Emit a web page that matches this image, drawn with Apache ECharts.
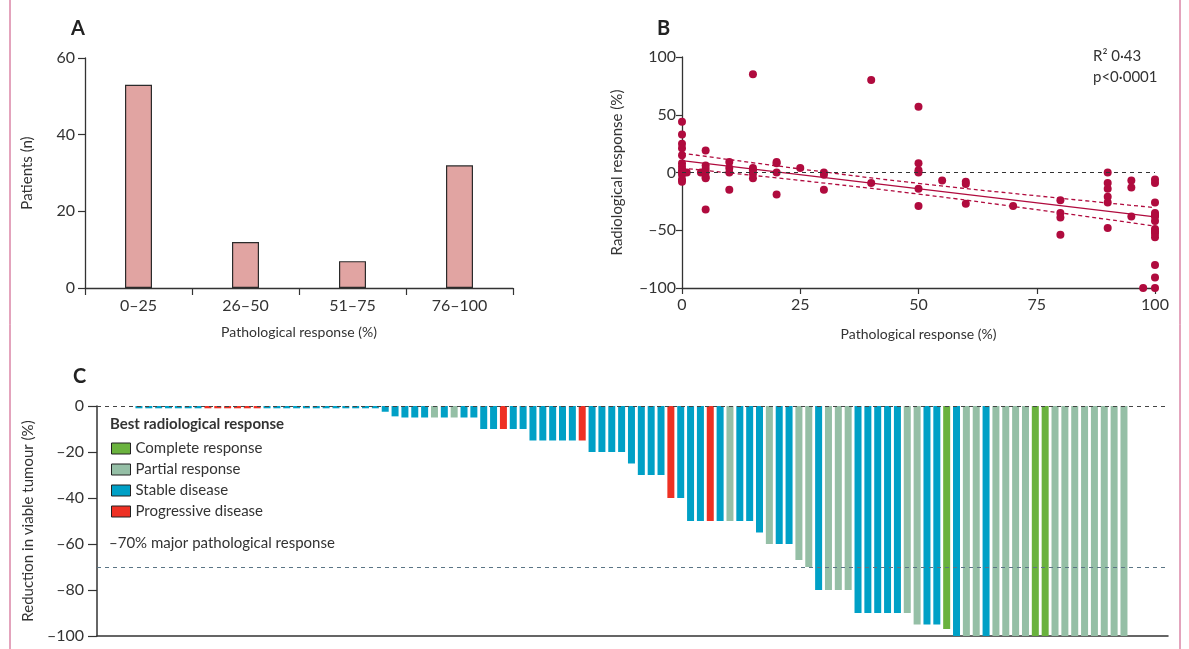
<!DOCTYPE html>
<html>
<head>
<meta charset="utf-8">
<script src="https://cdn.jsdelivr.net/npm/echarts@6/dist/echarts.min.js"></script>
<style>
html,body{margin:0;padding:0;background:#fff;}
#c{width:1189px;height:649px;}
</style>
</head>
<body>
<div id="c"></div>
<script>
// ---------- Panel A ----------
const catsA = ['0–25', '26–50', '51–75', '76–100'];
const patientsA = [53, 12, 7, 32];

// ---------- Panel B ----------
const pathB = [
  0,0,0,0,0,0,0,0,0,0,0,0,
  1,4,
  5,5,5,5,5,5,5,
  10,10,10,10,
  15,15,15,15,15,
  20,20,20,20,
  25,
  30,30,30,
  40,40,
  50,50,50,50,50,50,
  55,
  60,60,60,
  70,
  80,80,80,80,
  90,90,90,90,90,90,
  95,95,95,
  97.5,
  100,100,100,100,100,100,100,100,100,100,100,100,100,100
];
const radB = [
  44,33,25,21,15,8,5,2,0,-2,-6,-8,
  0,0,
  19,6,3,0,-4,-5,-32,
  9,4,0,-15,
  85,4,2,-1,-5,
  9,8,0,-19,
  4,
  0,-2,-15,
  80,-9,
  57,8,2,0,-14,-29,
  -7,
  -8,-10,-27,
  -29,
  -24,-35,-39,-54,
  0,-9,-14,-21,-26,-48,
  -7,-13,-38,
  -100,
  -6,-9,-26,-35,-37,-38,-42,-49,-51,-53,-56,-80,-91,-100
];
const regX = [0, 100];
const regY = [10.3, -38.4];
const bandX = [0, 25, 50, 75, 100];
const bandUpper = [16.8, 3.1, -9.4, -20.2, -30.4];
const bandLower = [3.8, -6.9, -18.7, -32.2, -46.4];
const statsText = ['R² 0·43', 'p<0·0001'];

// ---------- Panel C ----------
const reductionC = [
  -1,-1,-1,-1,-1,-1,-1,
  -1,-1,-1,-1,-1,-1,
  -1,-1,-1,-1,-1,-1,-1,-1,-1,-1,-1,-1,
  -2.5,-4.5,
  -5,-5,-5,-5,-5,-5,-5,-5,
  -10,-10,-10,-10,-10,
  -15,-15,-15,-15,-15,-15,
  -20,-20,-20,-20,
  -25,
  -30,-30,-30,
  -40,-40,
  -50,-50,-50,-50,-50,-50,-50,
  -55,
  -60,-60,-60,
  -67,
  -70,
  -80,-80,-80,-80,
  -90,-90,-90,-90,-90,-90,
  -95,-95,-95,
  -97,
  -100,-100,-100,-100,-100,-100,-100,-100,-100,-100,-100,-100,-100,-100,-100,-100,-100,-100
];
const responseC = [
  'SD','SD','SD','SD','SD','SD','SD',
  'PD','PD','PD','PD','PD','PD',
  'SD','SD','SD','SD','SD','SD','SD','SD','SD','SD','SD','SD',
  'SD','SD',
  'SD','SD','SD','PR','SD','PR','SD','SD',
  'SD','SD','PD','SD','SD',
  'SD','SD','SD','SD','SD','PD',
  'SD','SD','SD','SD',
  'SD',
  'SD','SD','SD',
  'PD','SD',
  'SD','SD','PD','SD','PR','SD','SD',
  'SD',
  'PR','SD','SD',
  'PR',
  'PR',
  'SD','PR','PR','PR',
  'SD','SD','SD','SD','SD','PR',
  'PR','SD','SD',
  'CR',
  'SD','PR','PR','SD','PR','PR','PR','PR','CR','CR','PR','PR','PR','PR','PR','PR','PR','PR'
];
const responseCodes = ['CR', 'PR', 'SD', 'PD'];
const responseNames = ['Complete response', 'Partial response', 'Stable disease', 'Progressive disease'];
const responseColors = ['#6AB23E', '#95BFA6', '#00A0C6', '#EE3124'];
const ticksC = [0, -20, -40, -60, -80, -100];

const FONT = 'Lato, "Noto Sans", sans-serif';
const TXT = '#333';
const AX = '#333';
const CRIMSON = '#B00B3E';
const dashNum = v => (v < 0 ? '\u2013' + Math.abs(v) : String(v));

const chart = echarts.init(document.getElementById('c'), null, {renderer: 'canvas'});

const seriesC = responseCodes.map((code, k) => ({
  name: responseNames[k],
  type: 'bar',
  xAxisIndex: 2, yAxisIndex: 2,
  barWidth: 7,
  barGap: '-100%',
  itemStyle: {color: responseColors[k]},
  data: reductionC.map((v, i) => [i, v]).filter((d, i) => responseC[i] === code),
  z: 2
}));
seriesC[0].markLine = {
  silent: true, symbol: 'none', label: {show: false},
  data: [
    {yAxis: 0, lineStyle: {color: '#444', type: [4, 4], width: 1.2}},
    {yAxis: -70, lineStyle: {color: '#5B7585', type: [4, 4], width: 1.2}}
  ],
  z: 5
};

const option = {
  animation: false,
  backgroundColor: '#fff',
  textStyle: {fontFamily: FONT},
  grid: [
    {left: 85, top: 58, width: 428, height: 230},
    {left: 682, top: 57, width: 473, height: 231},
    {left: 97, top: 406, width: 1071, height: 230}
  ],
  legend: {
    orient: 'vertical', left: 111, top: 441, padding: 0,
    itemWidth: 19, itemHeight: 11, itemGap: 6,
    icon: 'rect',
    itemStyle: {borderColor: '#222', borderWidth: 1},
    textStyle: {fontFamily: FONT, fontSize: 15, color: TXT},
    data: responseNames, selectedMode: false
  },
  xAxis: [
    {
      gridIndex: 0, type: 'category', data: catsA,
      axisLine: {lineStyle: {color: AX, width: 1.3}},
      axisTick: {show: true, length: 7, lineStyle: {color: AX, width: 1.2}},
      axisLabel: {color: TXT, fontSize: 16, margin: 10, fontFamily: FONT},
      name: 'Pathological response (%)', nameLocation: 'middle', nameGap: 37,
      nameTextStyle: {color: TXT, fontSize: 14, fontFamily: FONT}
    },
    {
      gridIndex: 1, type: 'value', min: 0, max: 100, interval: 25,
      axisLine: {show: true, onZero: false, lineStyle: {color: AX, width: 1.3}},
      axisTick: {show: true, length: 6, lineStyle: {color: AX, width: 1.2}},
      axisLabel: {color: TXT, fontSize: 16, margin: 9, fontFamily: FONT},
      splitLine: {show: false},
      name: 'Pathological response (%)', nameLocation: 'middle', nameGap: 39,
      nameTextStyle: {color: TXT, fontSize: 14, fontFamily: FONT}
    },
    {
      gridIndex: 2, type: 'value', min: -4.26, max: 104.47,
      axisLine: {show: true, onZero: false, lineStyle: {color: AX, width: 1.5}},
      axisTick: {show: false}, axisLabel: {show: false}, splitLine: {show: false}
    }
  ],
  yAxis: [
    {
      gridIndex: 0, type: 'value', min: 0, max: 60, interval: 20,
      axisLine: {show: true, lineStyle: {color: AX, width: 1.3}},
      axisTick: {show: true, length: 7, lineStyle: {color: AX, width: 1.2}},
      axisLabel: {color: TXT, fontSize: 16, margin: 10, fontFamily: FONT},
      splitLine: {show: false},
      name: 'Patients (n)', nameLocation: 'middle', nameGap: 50,
      nameTextStyle: {color: TXT, fontSize: 15, fontFamily: FONT}
    },
    {
      gridIndex: 1, type: 'value', min: -100, max: 100, interval: 50,
      axisLine: {show: true, onZero: false, lineStyle: {color: AX, width: 1.3}},
      axisTick: {show: true, length: 6, lineStyle: {color: AX, width: 1.2}},
      axisLabel: {color: TXT, fontSize: 16, margin: 6, fontFamily: FONT, formatter: dashNum},
      splitLine: {show: false},
      name: 'Radiological response (%)', nameLocation: 'middle', nameGap: 57,
      nameTextStyle: {color: TXT, fontSize: 15, fontFamily: FONT}
    },
    {
      gridIndex: 2, type: 'value', min: -100, max: 0, interval: 20,
      axisLine: {show: true, onZero: false, lineStyle: {color: AX, width: 1.5}},
      axisTick: {show: true, length: 9, lineStyle: {color: AX, width: 1.2}},
      axisLabel: {color: TXT, fontSize: 16, margin: 13, fontFamily: FONT,
        formatter: v => (ticksC.indexOf(v) >= 0 ? dashNum(v) : '')},
      splitLine: {show: false},
      name: 'Reduction in viable tumour (%)', nameLocation: 'middle', nameGap: 57,
      nameTextStyle: {color: TXT, fontSize: 15, fontFamily: FONT}
    }
  ],
  series: [
    {
      type: 'bar', xAxisIndex: 0, yAxisIndex: 0, barWidth: 27,
      itemStyle: {color: '#E1A4A2', borderColor: '#2b2b2b', borderWidth: 1.2},
      data: patientsA
    },
    {
      type: 'line', xAxisIndex: 1, yAxisIndex: 1, symbol: 'none',
      lineStyle: {color: CRIMSON, width: 1.4},
      data: regX.map((x, i) => [x, regY[i]]), z: 3,
      markLine: {
        silent: true, symbol: 'none', label: {show: false},
        data: [{yAxis: 0}],
        lineStyle: {color: '#333', type: [4, 4], width: 1.2}
      }
    },
    {
      type: 'line', xAxisIndex: 1, yAxisIndex: 1, symbol: 'none', smooth: true,
      lineStyle: {color: CRIMSON, width: 1.3, type: [4, 3]},
      data: bandX.map((x, i) => [x, bandUpper[i]]), z: 3
    },
    {
      type: 'line', xAxisIndex: 1, yAxisIndex: 1, symbol: 'none', smooth: true,
      lineStyle: {color: CRIMSON, width: 1.3, type: [4, 3]},
      data: bandX.map((x, i) => [x, bandLower[i]]), z: 3
    },
    {
      type: 'scatter', xAxisIndex: 1, yAxisIndex: 1, symbolSize: 8,
      itemStyle: {color: CRIMSON, opacity: 1},
      data: pathB.map((x, i) => [x, radB[i]]), z: 4
    }
  ].concat(seriesC),
  graphic: [
    {type: 'rect', shape: {x: 10, y: -5, width: 1170, height: 660}, style: {fill: 'none', stroke: '#C8497A', lineWidth: 1}, silent: true},
    {type: 'text', left: 71, top: 19, style: {text: 'A', font: 'bold 20px ' + FONT, fill: '#222'}},
    {type: 'text', left: 657, top: 19, style: {text: 'B', font: 'bold 20px ' + FONT, fill: '#222'}},
    {type: 'text', left: 73, top: 367, style: {text: 'C', font: 'bold 20px ' + FONT, fill: '#222'}},
    {type: 'text', left: 1093, top: 49, style: {text: statsText[0], font: '15px ' + FONT, fill: TXT}},
    {type: 'text', left: 1093, top: 70, style: {text: statsText[1], font: '15px ' + FONT, fill: TXT}},
    {type: 'text', left: 110, top: 417, style: {text: 'Best radiological response', font: 'bold 15px ' + FONT, fill: TXT}},
    {type: 'text', left: 109, top: 536, style: {text: '\u201370% major pathological response', font: '15px ' + FONT, fill: TXT}}
  ]
};
chart.setOption(option);
</script>
</body>
</html>
